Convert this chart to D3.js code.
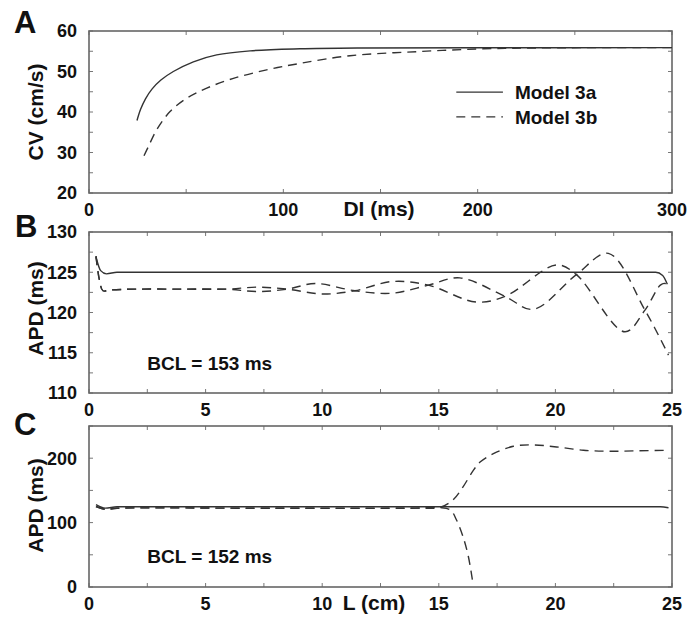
<!DOCTYPE html>
<html>
<head>
<meta charset="utf-8">
<script src="https://cdn.jsdelivr.net/npm/d3@7"></script>
<style>
  body { margin: 0; background: #fff; }
  text { font-family: "Liberation Sans", Arial, sans-serif; font-weight: bold; fill: #111; }
</style>
</head>
<body>
<svg id="svg"></svg>
<script>
    var w = 700;
    var h = 620;

    // panel A: CV restitution, [DI (ms), CV (cm/s)]
    var cv3a = [[24.7,37.9],[26.5,40.6],[29,43.2],[32.5,45.7],[37,47.9],[43.4,50.0],[53.7,52.4],
                [65.7,54.1],[82.9,55.1],[108.6,55.6],[140,55.8],[200,55.85],[300,55.9]];
    var cv3b = [[28.3,29.2],[30.5,31.4],[34.8,35.6],[41.7,40.1],[50.3,43.4],[60.6,45.9],
                [74.3,48.3],[91.4,50.4],[108.6,52.0],[134.3,53.9],[168.6,54.9],[203,55.6],
                [237,55.85],[300,55.9]];

    // panel B: APD along cable, BCL = 153 ms, [L (cm), APD (ms)]
    var apdB_3a = [[0.3,126.9],[0.5,125.2],[0.75,124.8],[1.2,125.0],[5,125.0],[15,125.0],
                   [24.3,125.0],[24.6,124.6],[24.8,123.5]];
    var apdB_3b1 = [[0.3,127.0],[0.45,124.0],[0.6,122.7],[0.9,122.8],[2,122.9],[4,122.9],
                    [5.9,122.9],[7.2,123.15],[8.5,122.9],[10,122.3],[11.4,122.7],[13,123.85],
                    [14.55,123.4],[16.6,121.3],[17.84,122.0],[20.05,125.9],[20.9,124.7],
                    [22.98,117.6],[23.84,120.3],[24.5,123.4],[24.7,123.6],[24.85,123.0]];
    var apdB_3b2 = [[0.3,127.0],[0.45,124.0],[0.6,122.7],[0.9,122.8],[2,122.9],[4,122.9],
                    [5.9,122.9],[7.2,122.6],[8.5,122.9],[9.7,123.6],[11.4,122.7],[13,122.4],
                    [14.55,123.4],[15.9,124.3],[17.84,122.0],[19.05,120.4],[20.9,124.7],
                    [22.27,127.35],[23.84,120.3],[24.85,114.7]];

    // panel C: BCL = 152 ms
    var apdC_3a = [[0.3,128],[0.7,122.5],[1.2,124.5],[10,124.5],[20,124.5],[24.5,124.5],[24.85,123]];
    var apdC_3b1 = [[0.3,125],[0.7,120.5],[1.2,122.2],[8,122.2],[14,122.5],[15.05,123.7],
                    [15.6,135],[16.04,155.6],[16.48,181],[16.77,194],[17.34,207],[18.2,218.5],
                    [19.06,220.6],[20.05,217.5],[21.2,212.4],[22.34,210.8],[23.5,211.5],[24.85,212.2]];
    var apdC_3b2 = [[0.3,125],[0.7,120.5],[1.2,122.2],[8,122.2],[14,122.5],[15.05,123.4],
                    [15.5,119.6],[15.76,104],[16.04,78],[16.27,47],[16.45,8.7]];

    var ticksA_x = [0, 100, 200, 300];
    var ticksA_y = [20, 30, 40, 50, 60];
    var ticksB_x = [0, 5, 10, 15, 20, 25];
    var ticksB_y = [110, 115, 120, 125, 130];
    var ticksC_x = [0, 5, 10, 15, 20, 25];
    var ticksC_y = [0, 100, 200];

    var left = 89, right = 672;
    var dash = "9,6";

    svg = d3.select("#svg")
            .attr("width", w)
            .attr("height", h)

    svg.append("rect")
        .attr("width", w)
        .attr("height", h)
        .attr("fill", "#fff")

    var make_panel = function(p)
    {
        var x = d3.scaleLinear().domain(p.xd).range([left, right]);
        var y = d3.scaleLinear().domain(p.yd).range([p.bottom, p.top]);
        var g = svg.append("g").attr("class", "panel");

        // minor ticks inward on all 4 sides
        var tk = 4;
        var xt = d3.range(p.xd[0], p.xd[1] + 1e-9, p.xminor);
        var yt = d3.range(p.yd[0], p.yd[1] + 1e-9, p.yminor);
        g.selectAll("line.xt").data(xt).enter().append("line")
            .attr("x1", function(d) { return x(d) }).attr("x2", function(d) { return x(d) })
            .attr("y1", p.bottom).attr("y2", p.bottom - tk)
            .attr("stroke", "#777").attr("stroke-width", 1)
        g.selectAll("line.xt2").data(xt).enter().append("line")
            .attr("x1", function(d) { return x(d) }).attr("x2", function(d) { return x(d) })
            .attr("y1", p.top).attr("y2", p.top + tk)
            .attr("stroke", "#777").attr("stroke-width", 1)
        g.selectAll("line.yt").data(yt).enter().append("line")
            .attr("y1", function(d) { return y(d) }).attr("y2", function(d) { return y(d) })
            .attr("x1", left).attr("x2", left + tk)
            .attr("stroke", "#777").attr("stroke-width", 1)
        g.selectAll("line.yt2").data(yt).enter().append("line")
            .attr("y1", function(d) { return y(d) }).attr("y2", function(d) { return y(d) })
            .attr("x1", right).attr("x2", right - tk)
            .attr("stroke", "#777").attr("stroke-width", 1)

        g.append("rect")
            .attr("x", left).attr("y", p.top)
            .attr("width", right - left).attr("height", p.bottom - p.top)
            .attr("fill", "none").attr("stroke", "#666").attr("stroke-width", 1.6)

        g.selectAll("text.xl").data(p.xticks).enter().append("text")
            .attr("x", function(d) { return x(d) })
            .attr("y", p.bottom + 23)
            .attr("text-anchor", "middle")
            .attr("font-size", 18)
            .text(function(d) { return d })
        g.selectAll("text.yl").data(p.yticks).enter().append("text")
            .attr("x", left - 12)
            .attr("y", function(d) { return y(d) })
            .attr("dy", "0.36em")
            .attr("text-anchor", "end")
            .attr("font-size", 18)
            .text(function(d) { return d })

        if (p.xlabel)
            g.append("text")
                .attr("x", p.xlabelAt)
                .attr("y", p.bottom + 23)
                .attr("text-anchor", "middle")
                .attr("font-size", 21)
                .text(p.xlabel)

        g.append("text")
            .attr("transform", "translate(" + [43, (p.top + p.bottom) / 2 - p.ylabelShift] + ")rotate(-90)")
            .attr("text-anchor", "middle")
            .attr("font-size", 21)
            .text(p.ylabel)

        g.append("text")
            .attr("x", p.letterX).attr("y", p.letterY)
            .attr("font-size", 31)
            .text(p.letter)

        p.series.forEach(function(s) {
            var line = d3.line()
                .x(function(d) { return x(d[0]) })
                .y(function(d) { return y(d[1]) })
                .curve(s.dashed ? p.curve : p.solidCurve)
            g.append("path")
                .datum(s.data)
                .attr("d", line)
                .attr("fill", "none")
                .attr("stroke", "#333")
                .attr("stroke-width", 1.4)
                .attr("stroke-dasharray", s.dashed ? dash : null)
        })

        return {x: x, y: y, g: g};
    }

    var A = make_panel({
        xd: [0, 300], yd: [20, 60], top: 31, bottom: 193,
        xminor: 50, yminor: 5, xticks: ticksA_x, yticks: ticksA_y,
        xlabel: "DI (ms)", xlabelAt: 379, ylabel: "CV (cm/s)", ylabelShift: 0,
        letter: "A", letterX: 14, letterY: 33,
        curve: d3.curveCatmullRom, solidCurve: d3.curveCatmullRom,
        series: [{data: cv3a, dashed: false}, {data: cv3b, dashed: true}]
    });

    var B = make_panel({
        xd: [0, 25], yd: [110, 130], top: 232, bottom: 393,
        xminor: 2.5, yminor: 2.5, xticks: ticksB_x, yticks: ticksB_y,
        xlabel: null, ylabel: "APD (ms)", ylabelShift: 4,
        letter: "B", letterX: 15, letterY: 237,
        curve: d3.curveCatmullRom, solidCurve: d3.curveMonotoneX,
        series: [{data: apdB_3a, dashed: false}, {data: apdB_3b1, dashed: true}, {data: apdB_3b2, dashed: true}]
    });

    var C = make_panel({
        xd: [0, 25], yd: [0, 250], top: 426, bottom: 587,
        xminor: 2.5, yminor: 50, xticks: ticksC_x, yticks: ticksC_y,
        xlabel: "L (cm)", xlabelAt: 374, ylabel: "APD (ms)", ylabelShift: 1,
        letter: "C", letterX: 14, letterY: 435,
        curve: d3.curveCatmullRom, solidCurve: d3.curveMonotoneX,
        series: [{data: apdC_3a, dashed: false}, {data: apdC_3b1, dashed: true}, {data: apdC_3b2, dashed: true}]
    });

    // legend in A
    var legend = [{name: "Model 3a", dashed: false, cv: 44.9}, {name: "Model 3b", dashed: true, cv: 38.8}];
    legend.forEach(function(d) {
        A.g.append("line")
            .attr("x1", A.x(189)).attr("x2", A.x(213))
            .attr("y1", A.y(d.cv)).attr("y2", A.y(d.cv))
            .attr("stroke", "#333").attr("stroke-width", 1.4)
            .attr("stroke-dasharray", d.dashed ? dash : null)
        A.g.append("text")
            .attr("x", A.x(213) + 12).attr("y", A.y(d.cv))
            .attr("dy", "0.36em")
            .attr("font-size", 19)
            .text(d.name)
    })

    B.g.append("text")
        .attr("x", B.x(2.5)).attr("y", B.y(112.9))
        .attr("font-size", 19)
        .text("BCL = 153 ms")
    C.g.append("text")
        .attr("x", C.x(2.5)).attr("y", C.y(37))
        .attr("font-size", 19)
        .text("BCL = 152 ms")
</script>
</body>
</html>
